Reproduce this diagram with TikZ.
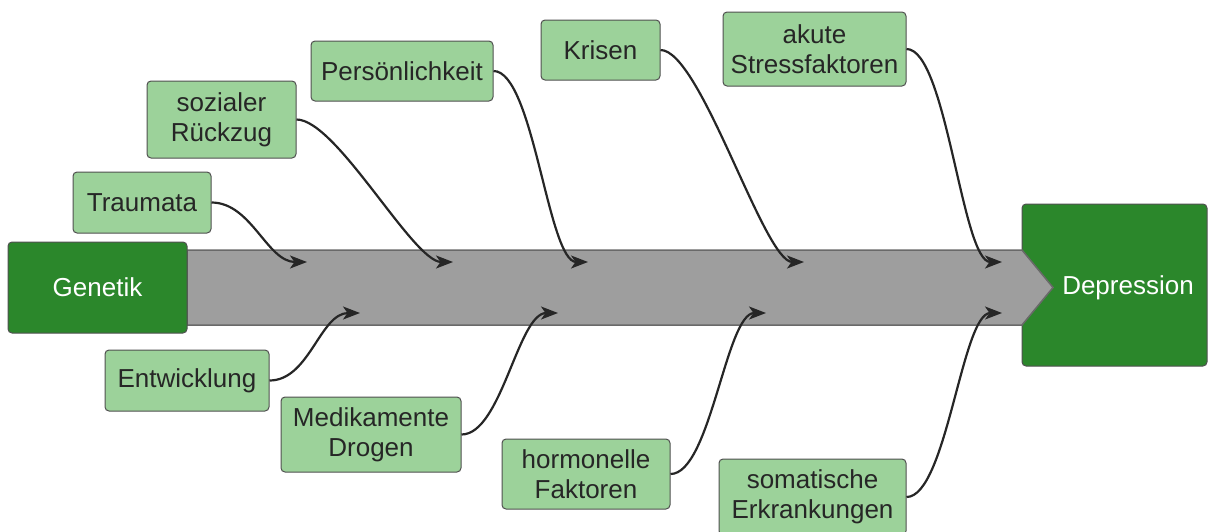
\documentclass[tikz,border=0pt]{standalone}
\usepackage{fontspec}
\setmainfont{Liberation Sans}
\usetikzlibrary{arrows.meta}
\definecolor{dkgreen}{RGB}{43,135,43}
\definecolor{ltgreen}{RGB}{156,210,154}
\definecolor{bandgray}{RGB}{158,158,158}
\definecolor{bandedge}{RGB}{105,105,105}
\definecolor{ink}{RGB}{38,38,38}
\definecolor{boxedge}{RGB}{80,80,80}
\begin{document}
\begin{tikzpicture}[x=1pt,y=-1pt,
  cause/.style={draw=boxedge, line width=1pt, fill=ltgreen, rounded corners=4pt,
    text=ink, align=center, font=\fontsize{26}{30}\selectfont, inner sep=0pt},
  mainbox/.style={draw=boxedge, line width=1pt, fill=dkgreen, rounded corners=4pt,
    text=white, align=center, font=\fontsize{26}{30}\selectfont, inner sep=0pt},
  link/.style={draw=ink, line width=2.2pt, -{Stealth[length=17pt,width=13pt,inset=4.5pt]}}
]
\useasboundingbox (0,0) rectangle (1208,531);
% effect box
\node[mainbox, minimum width=185pt, minimum height=162pt] (dep) at (1114.5,285) {\hspace*{27pt}\raisebox{-9pt}[0pt][0pt]{Depression}};
% spine
\filldraw[fill=bandgray, draw=bandedge, line width=1.5pt]
  (187,250) -- (1022,250) -- (1053,287.5) -- (1022,325) -- (187,325) -- cycle;
\node[mainbox, minimum width=179pt, minimum height=91pt] (gen) at (97.5,287.5) {Genetik};
% causes top
\node[cause, minimum width=138pt, minimum height=61pt] (trauma) at (142,202.5) {Traumata};
\node[cause, minimum width=149pt, minimum height=77pt] (sozial) at (221.5,119.5) {sozialer\\Rückzug};
\node[cause, minimum width=182pt, minimum height=60pt] (pers) at (402,71) {Persönlichkeit};
\node[cause, minimum width=119pt, minimum height=60pt] (krisen) at (600.5,50) {Krisen};
\node[cause, minimum width=183pt, minimum height=74pt] (akut) at (814.5,49) {akute\\Stressfaktoren};
% causes bottom
\node[cause, minimum width=164pt, minimum height=61pt] (entw) at (187,380.5) {Entwicklung};
\node[cause, minimum width=180pt, minimum height=75pt] (medi) at (371,434.5) {Medikamente\\Drogen};
\node[cause, minimum width=168pt, minimum height=70pt] (horm) at (586,474) {hormonelle\\Faktoren};
\node[cause, minimum width=187pt, minimum height=76pt] (soma) at (812.5,497) {somatische\\Erkrankungen};
% arrow targets
\coordinate (t1) at (307,262);
\coordinate (t2) at (453,262);
\coordinate (t3) at (588,262);
\coordinate (t4) at (804,262);
\coordinate (t5) at (1002,262);
\coordinate (b1) at (360,313);
\coordinate (b2) at (558,313);
\coordinate (b3) at (766,313);
\coordinate (b4) at (1002,313);
% connectors
\draw[link] (trauma.east) .. controls +(40,0) and +(-40,0) .. (t1);
\draw[link] (sozial.east) .. controls +(40,0) and +(-40,0) .. (t2);
\draw[link] (pers.east) .. controls +(40,0) and +(-40,0) .. (t3);
\draw[link] (krisen.east) .. controls +(40,0) and +(-40,0) .. (t4);
\draw[link] (akut.east) .. controls +(40,0) and +(-40,0) .. (t5);
\draw[link] (entw.east) .. controls +(40,0) and +(-40,0) .. (b1);
\draw[link] (medi.east) .. controls +(40,0) and +(-40,0) .. (b2);
\draw[link] (horm.east) .. controls +(40,0) and +(-40,0) .. (b3);
\draw[link] (soma.east) .. controls +(40,0) and +(-40,0) .. (b4);
\end{tikzpicture}
\end{document}
